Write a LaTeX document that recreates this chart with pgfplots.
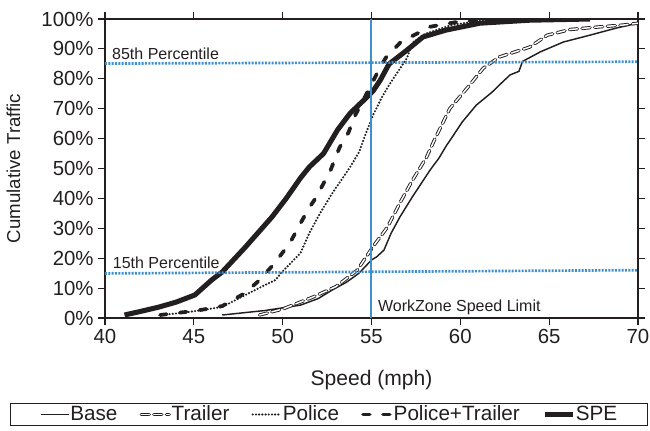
\documentclass[border=0pt]{standalone}
\usepackage{pgfplots}
\pgfplotsset{compat=1.18}
\usepackage{fontspec}
\setmainfont{Liberation Sans}
\definecolor{refblue}{RGB}{62,142,208}
\definecolor{ink}{RGB}{35,31,32}
\begin{document}
\begin{tikzpicture}
\begin{axis}[
  scale only axis,
  width=399.75pt, height=224.25pt,
  xmin=40, xmax=70, ymin=0, ymax=100,
  xtick={40,45,...,70}, ytick={0,10,...,100},
  tick align=outside, major tick length=5pt,
  tick style={ink, line width=0.8pt},
  axis line style={ink, line width=0.8pt},
  yticklabel={\pgfmathprintnumber{\tick}\%},
  /pgf/number format/assume math mode=true,
  tick label style={font=\fontsize{15.3}{18}\selectfont, text=ink},
  xlabel={Speed (mph)}, ylabel={Cumulative Traffic},
  xlabel style={font=\fontsize{15.8}{18}\selectfont, text=ink, at={(axis description cs:0.5,0)}, anchor=center, yshift=-46.5pt},
  ylabel style={font=\fontsize{14}{17}\selectfont, text=ink, at={(axis description cs:-0.150,0.5)}, anchor=south},
  legend columns=5,
  legend style={at={(axis description cs:0.4203,-0.3227)}, anchor=center,
    font=\fontsize{15.5}{18}\selectfont, text=ink, draw=ink, line width=0.8pt,
    inner xsep=22pt, inner ysep=1.5pt, nodes={inner sep=0.6pt},
    /tikz/every even column/.append style={column sep=16pt}},
  legend image code/.code={\draw[#1] (0pt,0pt) -- (21pt,0pt);},
]
\coordinate (sw) at (rel axis cs:0,0);
% Base
\addplot[ink, line width=1.1pt] coordinates {
(46.6,1) (49,2.5) (51.0,4.3) (52.0,6.5) (52.8,9.4) (53.6,12) (54.3,15) (55.0,19.4) (55.3,20.5) (55.7,22.7) (56.1,28.3) (56.6,33.8) (57.3,40.5) (57.8,45) (58.3,49.5) (58.8,53.5) (59.2,57.5) (59.6,61) (60.1,65.5) (60.9,71.2) (61.8,75.6) (62.3,78.5) (62.8,81.3) (63.3,82.5) (63.5,85.8) (64.5,89) (65.8,92.3) (67.3,94.6) (68.8,97) (70,98.6)};
\addlegendentry{Base}
% Trailer
\addplot[ink, line width=0.7pt, double=white, double distance=1.1pt, line cap=round, dash pattern=on 6pt off 3.5pt] coordinates {
(48.7,1) (50,3) (51.7,7) (53,10.5) (54.2,16) (55.1,24) (55.9,30.4) (56.6,38.5) (57.3,46) (58.1,53.8) (58.5,59) (59.4,70) (60.4,77) (61.3,83.6) (62.2,87.3) (63.9,90.6) (64.9,94.6) (66.2,96.5) (67.7,97.3) (69.2,98) (70,98.6)};
\addlegendentry{Trailer}
% Police
\addplot[ink, line width=1.8pt, line cap=round, dash pattern=on 0pt off 2.4pt] coordinates {
(43.1,1) (44.5,1.8) (46.6,3.7) (47.9,7.7) (49.0,11) (49.6,12.7) (49.9,15) (51.0,21.7) (51.5,28.4) (52.1,35) (52.8,41.8) (53.4,47) (53.8,50.5) (54.3,55.5) (54.7,62) (55.1,68) (55.6,74) (56.0,78) (57.0,87) (57.3,92) (58,95) (59.5,98) (61,99.3) (63,100)};
\addlegendentry{Police}
% Police+Trailer
\addplot[ink, line width=2.8pt, line cap=round, dash pattern=on 5pt off 10pt] coordinates {
(43.1,1) (44.5,2) (45.5,2.8) (46.6,4) (47.9,8.4) (48.7,12.7) (49.5,18) (50.4,25) (50.8,29.4) (51.4,36) (51.9,40.5) (52.7,49.5) (53.2,57) (53.7,62) (54.1,68) (54.9,77) (55.5,84) (55.8,87) (56.6,92) (57.2,94) (58.3,97.4) (59.8,99) (61.1,99.6) (63,100)};
\addlegendentry{Police+Trailer}
% SPE
\addplot[ink, line width=3.8pt, line join=round] coordinates {
(41.1,1) (42,2.2) (43,3.6) (44,5.3) (45.06,7.7) (46.0,12.7) (46.6,15.4) (47.9,23.7) (49.4,33.8) (50.2,40) (51.0,46.8) (51.5,50.5) (52.3,55) (53.1,63) (53.8,68.5) (54.7,73.6) (55.1,76) (55.5,79.6) (55.9,84) (56.0,85) (57.0,89.6) (57.9,94) (59.2,96.3) (61.1,98.6) (63.9,99.6) (67.3,100)};
\addlegendentry{SPE}
% reference lines
\addplot[refblue, line width=2pt, dash pattern=on 1.5pt off 1pt, forget plot] coordinates {(40,85.1) (70,85.7)};
\addplot[refblue, line width=2pt, dash pattern=on 1.5pt off 1pt, forget plot] coordinates {(40,14.9) (70,16.0)};
\addplot[refblue, line width=1.5pt, forget plot] coordinates {(55,0) (55,100)};
\node[anchor=base west, font=\fontsize{12}{14}\selectfont, text=ink, inner sep=0pt] at (axis cs:40.39,86.5) {85th Percentile};
\node[anchor=base west, font=\fontsize{12}{14}\selectfont, text=ink, inner sep=0pt] at (axis cs:40.43,16.6) {15th Percentile};
\node[anchor=base west, font=\fontsize{12}{14}\selectfont, text=ink, inner sep=0pt] at (axis cs:55.36,2.1) {WorkZone Speed Limit};
\end{axis}
\pgfresetboundingbox
\path (sw) ++(-78.75pt,-84.75pt) rectangle ++(487.5pt,323.25pt);
\end{tikzpicture}
\end{document}
